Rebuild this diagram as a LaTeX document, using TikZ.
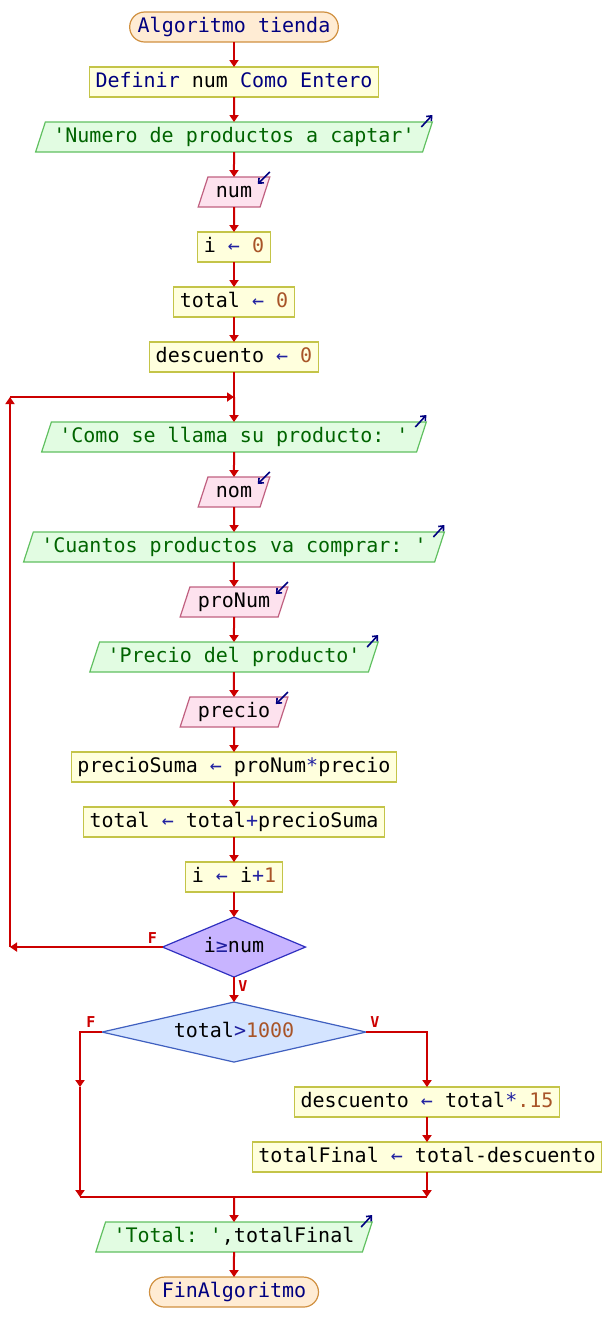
\documentclass[tikz,border=0pt]{standalone}
\usepackage{fontspec}
\setmonofont{DejaVu Sans Mono}
\usepackage{xcolor}
\usepackage{tikz}
\usetikzlibrary{arrows.meta,positioning,shapes.geometric}
\definecolor{procfill}{RGB}{255,255,221}
\definecolor{procdraw}{RGB}{196,196,72}
\definecolor{outfill}{RGB}{226,252,226}
\definecolor{outdraw}{RGB}{96,192,96}
\definecolor{infill}{RGB}{253,226,238}
\definecolor{indraw}{RGB}{192,96,128}
\definecolor{termfill}{RGB}{255,236,212}
\definecolor{termdraw}{RGB}{208,144,64}
\definecolor{decfill}{RGB}{200,180,255}
\definecolor{decdraw}{RGB}{48,48,192}
\definecolor{condfill}{RGB}{212,228,255}
\definecolor{conddraw}{RGB}{64,96,192}
\definecolor{linkred}{RGB}{204,0,0}
\definecolor{kwblue}{RGB}{0,0,128}
\definecolor{strgreen}{RGB}{0,100,0}
\definecolor{nmbbrown}{RGB}{168,84,40}
\definecolor{opblue}{RGB}{32,32,160}
\newcommand\kw[1]{\textcolor{kwblue}{#1}}
\newcommand\txt[1]{\textcolor{strgreen}{#1}}
\newcommand\nmb[1]{\textcolor{nmbbrown}{#1}}
\newcommand\op[1]{\textcolor{opblue}{#1}}
\newcommand\asg{\textcolor{opblue}{←}}
\newcommand\outmark[1]{\draw[iomark] ([shift={(-5.5pt,-2.5pt)}]#1.top right corner) -- ([shift={(0pt,3.5pt)}]#1.top right corner);}
\newcommand\inmark[1]{\draw[iomark] ([shift={(0pt,2.5pt)}]#1.top right corner) -- ([shift={(-6pt,-3.5pt)}]#1.top right corner);}

\begin{document}
\begin{tikzpicture}[
node distance=12.5pt,
every node/.style={font=\ttfamily\fontsize{10pt}{12pt}\selectfont,text height=7.5pt,text depth=2.5pt,inner ysep=2.5pt,outer sep=0pt},
procbox/.style={draw=procdraw,fill=procfill,inner xsep=3pt,line width=0.6pt},
termbox/.style={draw=termdraw,fill=termfill,rounded corners=7.5pt,inner xsep=4pt,line width=0.6pt},
outbox/.style={trapezium,trapezium left angle=72,trapezium right angle=108,draw=outdraw,fill=outfill,inner xsep=4pt,line width=0.6pt},
inbox/.style={trapezium,trapezium left angle=72,trapezium right angle=108,draw=indraw,fill=infill,inner xsep=4pt,line width=0.6pt},
decbox/.style={diamond,aspect=4,inner sep=0pt,minimum height=30pt,line width=0.6pt},
iomark/.style={-{Straight Barb[length=2pt,width=3.5pt]},draw=kwblue,line width=0.8pt},
link/.style={draw=linkred,line width=1pt},
arrow/.style={link,-{Triangle[length=3.5pt,width=4.5pt]}},
lbl/.style={font=\ttfamily\bfseries\fontsize{7.5pt}{8pt}\selectfont,text=linkred,inner sep=0pt}]
\useasboundingbox (0,0) rectangle (306pt,-670pt);
\node[termbox] (start) at (117pt,-13.5pt) {\kw{Algoritmo tienda}};
\node[procbox,below=of start] (def) {\kw{Definir} num \kw{Como Entero}};
\node[outbox,below=of def] (ask) {\txt{'Numero de productos a captar'}};
\node[inbox,below=of ask] (rnum) {num};
\node[procbox,below=of rnum] (ini) {i \asg{} \nmb{0}};
\node[procbox,below=of ini] (tot0) {total \asg{} \nmb{0}};
\node[procbox,below=of tot0] (dsc0) {descuento \asg{} \nmb{0}};
\coordinate[below=of dsc0] (loop);
\node[outbox,below=of loop] (askn) {\txt{'Como se llama su producto: '}};
\node[inbox,below=of askn] (rnom) {nom};
\node[outbox,below=of rnom] (askc) {\txt{'Cuantos productos va comprar: '}};
\node[inbox,below=of askc] (rcant) {proNum};
\node[outbox,below=of rcant] (askp) {\txt{'Precio del producto'}};
\node[inbox,below=of askp] (rprec) {precio};
\node[procbox,below=of rprec] (sum) {precioSuma \asg{} proNum\op{*}precio};
\node[procbox,below=of sum] (acc) {total \asg{} total\op{+}precioSuma};
\node[procbox,below=of acc] (inc) {i \asg{} i\op{+}\nmb{1}};
\node[decbox,draw=decdraw,fill=decfill,minimum width=71.5pt,below=of inc] (cond) {i\op{≥}num};
\node[decbox,draw=conddraw,fill=condfill,minimum width=132pt,below=of cond] (big) {total\op{>}\nmb{1000}};
\coordinate (yes) at ([xshift=30.5pt]big.east);
\coordinate (no) at ([xshift=-11pt]big.west);
\node[procbox,below=27.5pt of yes] (dsc) {descuento \asg{} total\op{*}\nmb{.15}};
\node[procbox,below=of dsc] (fin) {totalFinal \asg{} total-descuento};
\coordinate[below=of fin] (mrgr);
\coordinate (mrg) at (mrgr -| big);
\node[outbox,below=of mrg] (show) {\txt{'Total: '},totalFinal};
\node[termbox,minimum width=84.5pt,below=of show] (stop) {\kw{FinAlgoritmo}};
% input / output marks
\outmark{ask} \inmark{rnum} \outmark{askn} \inmark{rnom}
\outmark{askc} \inmark{rcant} \outmark{askp} \inmark{rprec} \outmark{show}
% connectors
\draw[arrow] (start)--(def); \draw[arrow] (def)--(ask);
\draw[arrow] (ask)--(rnum); \draw[arrow] (rnum)--(ini);
\draw[arrow] (ini)--(tot0); \draw[arrow] (tot0)--(dsc0);
\draw[link] (dsc0)--(loop); \draw[arrow] (loop)--(askn);
\draw[arrow] (askn)--(rnom); \draw[arrow] (rnom)--(askc);
\draw[arrow] (askc)--(rcant); \draw[arrow] (rcant)--(askp);
\draw[arrow] (askp)--(rprec); \draw[arrow] (rprec)--(sum);
\draw[arrow] (sum)--(acc); \draw[arrow] (acc)--(inc);
\draw[arrow] (inc)--(cond); \draw[arrow] (cond)--(big);
% loop back
\coordinate (lft) at (5pt,0pt);
\draw[arrow] (cond.west)--(cond.west -| lft) coordinate (bk);
\draw[arrow] (bk)--(loop -| lft) coordinate (bktop);
\draw[arrow] (bktop)--(loop);
% branches
\draw[arrow] (big.east)--(yes)--(dsc.north);
\draw[arrow] (dsc)--(fin);
\draw[arrow] (fin)--(mrgr);
\draw[arrow] (big.west)--(no)--(no |- dsc.north);
\draw[arrow] (no |- dsc.north)--(no |- mrgr);
\draw[link] (no |- mrgr)--(mrgr);
\draw[arrow] (mrg)--(show); \draw[arrow] (show)--(stop);
% branch labels
\node[lbl] (f1) at ([shift={(-5pt,4.5pt)}]cond.west) {F};
\node[lbl] (v1) at ([shift={(4.5pt,-4.5pt)}]cond.south) {V};
\node[lbl] (f2) at ([shift={(-5.5pt,5pt)}]big.west) {F};
\node[lbl] (v2) at ([shift={(4.5pt,5pt)}]big.east) {V};
\end{tikzpicture}
\end{document}
